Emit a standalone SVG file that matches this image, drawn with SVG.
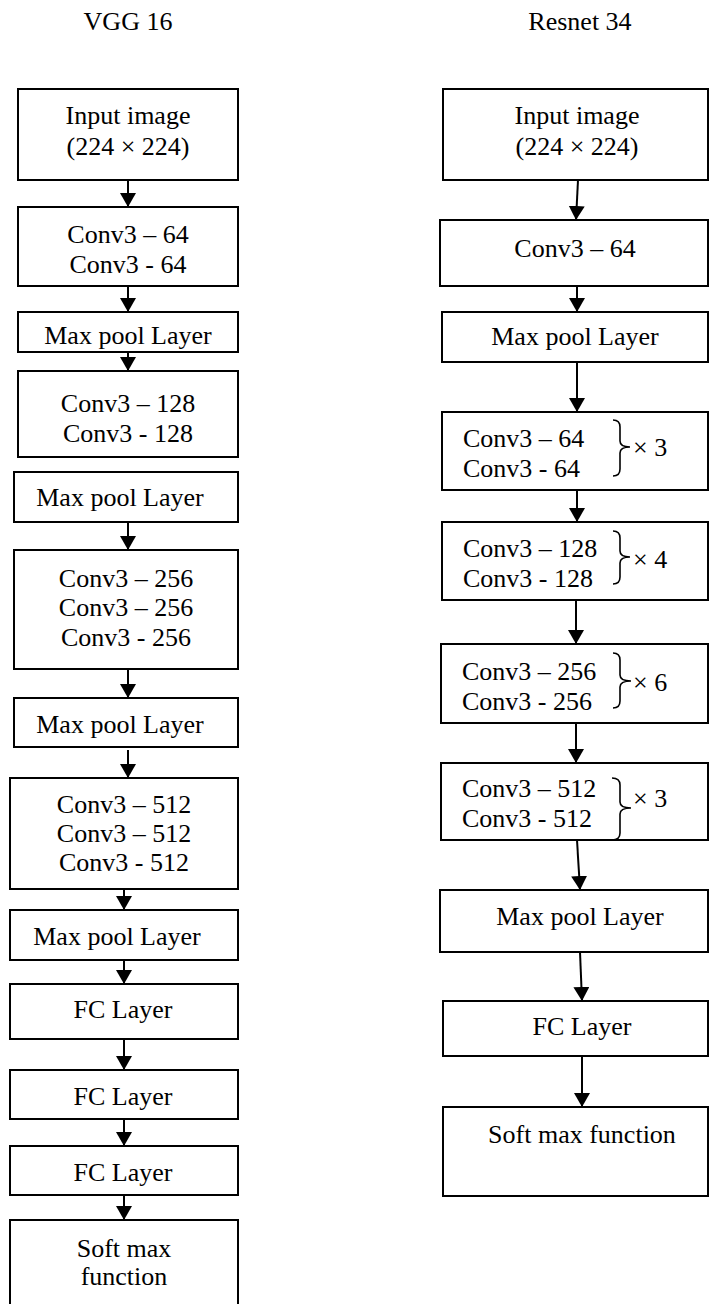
<svg xmlns="http://www.w3.org/2000/svg" width="710" height="1304" viewBox="0 0 710 1304">
<defs>
<marker id="ah" markerUnits="userSpaceOnUse" markerWidth="15" markerHeight="17" refX="14" refY="8" orient="auto">
<path d="M0,0 L14,8 L0,16 Z" fill="#000"/>
</marker>
<style>
text{font-family:"Liberation Serif","Times New Roman",serif;font-size:26px;fill:#000}
.c{text-anchor:middle}
.box{fill:#fff;stroke:#000;stroke-width:2}
.ar{stroke:#000;stroke-width:2;fill:none;marker-end:url(#ah)}
.br{stroke:#000;stroke-width:1.6;fill:none}
</style>
</defs>
<rect width="710" height="1304" fill="#fff"/>
<text class="c" x="128" y="30">VGG 16</text>
<text class="c" x="580" y="30">Resnet 34</text>

<g id="connectors">
<line class="ar" x1="128" y1="180" x2="128" y2="207"/>
<line class="ar" x1="128" y1="286" x2="128" y2="312"/>
<line class="ar" x1="128" y1="343" x2="128" y2="371"/>
<line class="ar" x1="128" y1="522" x2="128" y2="550"/>
<line class="ar" x1="128" y1="669" x2="128" y2="698"/>
<line class="ar" x1="128" y1="750" x2="128" y2="778"/>
<line class="ar" x1="124" y1="889" x2="124" y2="910"/>
<line class="ar" x1="124" y1="960" x2="124" y2="984"/>
<line class="ar" x1="124" y1="1039" x2="124" y2="1070"/>
<line class="ar" x1="124" y1="1119" x2="124" y2="1146"/>
<line class="ar" x1="124" y1="1195" x2="124" y2="1220"/>

<line class="ar" x1="578" y1="180" x2="576" y2="220"/>
<line class="ar" x1="577" y1="286" x2="577" y2="312"/>
<line class="ar" x1="577" y1="362" x2="577" y2="412"/>
<line class="ar" x1="577" y1="490" x2="577" y2="522"/>
<line class="ar" x1="576" y1="600" x2="576" y2="644"/>
<line class="ar" x1="576" y1="723" x2="576" y2="763"/>
<line class="ar" x1="577" y1="840" x2="580" y2="890"/>
<line class="ar" x1="580" y1="952" x2="582" y2="1001"/>
<line class="ar" x1="582" y1="1056" x2="582" y2="1107"/>
</g>

<g id="vgg-input"><rect class="box" x="18" y="89" width="220" height="91"/>
<text class="c" x="128" y="124">Input image</text><text class="c" x="128" y="155">(224 × 224)</text></g>
<g id="vgg-conv64"><rect class="box" x="18" y="207" width="220" height="79"/>
<text class="c" x="128" y="243">Conv3 – 64</text><text class="c" x="128" y="273">Conv3 - 64</text></g>
<g id="vgg-pool1"><rect class="box" x="18" y="312" width="220" height="40"/>
<text class="c" x="128" y="344">Max pool Layer</text></g>
<g id="vgg-conv128"><rect class="box" x="18" y="371" width="220" height="86"/>
<text class="c" x="128" y="412">Conv3 – 128</text><text class="c" x="128" y="442">Conv3 - 128</text></g>
<g id="vgg-pool2"><rect class="box" x="14" y="472" width="224" height="50"/>
<text class="c" x="120" y="506">Max pool Layer</text></g>
<g id="vgg-conv256"><rect class="box" x="14" y="550" width="224" height="119"/>
<text class="c" x="126" y="587">Conv3 – 256</text><text class="c" x="126" y="616">Conv3 – 256</text><text class="c" x="126" y="646">Conv3 - 256</text></g>
<g id="vgg-pool3"><rect class="box" x="14" y="698" width="224" height="49"/>
<text class="c" x="120" y="733">Max pool Layer</text></g>
<g id="vgg-conv512"><rect class="box" x="10" y="778" width="228" height="111"/>
<text class="c" x="124" y="813">Conv3 – 512</text><text class="c" x="124" y="842">Conv3 – 512</text><text class="c" x="124" y="871">Conv3 - 512</text></g>
<g id="vgg-pool4"><rect class="box" x="10" y="910" width="228" height="50"/>
<text class="c" x="117" y="945">Max pool Layer</text></g>
<g id="vgg-fc1"><rect class="box" x="10" y="984" width="228" height="55"/>
<text class="c" x="123" y="1018">FC Layer</text></g>
<g id="vgg-fc2"><rect class="box" x="10" y="1070" width="228" height="49"/>
<text class="c" x="123" y="1105">FC Layer</text></g>
<g id="vgg-fc3"><rect class="box" x="10" y="1146" width="228" height="49"/>
<text class="c" x="123" y="1181">FC Layer</text></g>
<g id="vgg-softmax"><rect class="box" x="10" y="1220" width="228" height="92"/>
<text class="c" x="124" y="1257">Soft max</text><text class="c" x="124" y="1285">function</text></g>

<g id="res-input"><rect class="box" x="443" y="89" width="265" height="91"/>
<text class="c" x="577" y="124">Input image</text><text class="c" x="577" y="155">(224 × 224)</text></g>
<g id="res-conv64"><rect class="box" x="440" y="220" width="268" height="66"/>
<text class="c" x="575" y="257">Conv3 – 64</text></g>
<g id="res-pool1"><rect class="box" x="442" y="312" width="266" height="50"/>
<text class="c" x="575" y="345">Max pool Layer</text></g>
<g id="res-conv64x3"><rect class="box" x="442" y="412" width="266" height="78"/>
<text x="463" y="447">Conv3 – 64</text><text x="463" y="477">Conv3 - 64</text>
<path class="br" d="M613,420 Q620,420 620,427 L620,441 Q620,447 630,447 Q620,447 620,453 L620,469 Q620,476 613,476"/>
<text x="633" y="456">× 3</text></g>
<g id="res-conv128x4"><rect class="box" x="442" y="522" width="266" height="78"/>
<text x="463" y="557">Conv3 – 128</text><text x="463" y="587">Conv3 - 128</text>
<path class="br" d="M613,531 Q620,531 620,538 L620,551 Q620,557 630,557 Q620,557 620,563 L620,577 Q620,584 613,584"/>
<text x="633" y="568">× 4</text></g>
<g id="res-conv256x6"><rect class="box" x="441" y="644" width="267" height="79"/>
<text x="462" y="680">Conv3 – 256</text><text x="462" y="710">Conv3 - 256</text>
<path class="br" d="M613,653 Q620,653 620,660 L620,675 Q620,681 631,681 Q620,681 620,687 L620,701 Q620,708 613,708"/>
<text x="633" y="691">× 6</text></g>
<g id="res-conv512x3"><rect class="box" x="441" y="763" width="267" height="77"/>
<text x="462" y="797">Conv3 – 512</text><text x="462" y="827">Conv3 - 512</text>
<path class="br" d="M612,778 Q620,778 620,785 L620,802 Q620,808 631,808 Q620,808 620,814 L620,833 Q620,840 612,840"/>
<text x="633" y="807">× 3</text></g>
<g id="res-pool2"><rect class="box" x="440" y="890" width="268" height="62"/>
<text class="c" x="580" y="925">Max pool Layer</text></g>
<g id="res-fc"><rect class="box" x="443" y="1001" width="265" height="55"/>
<text class="c" x="582" y="1035">FC Layer</text></g>
<g id="res-softmax"><rect class="box" x="443" y="1107" width="265" height="89"/>
<text class="c" x="582" y="1143">Soft max function</text></g>
</svg>
